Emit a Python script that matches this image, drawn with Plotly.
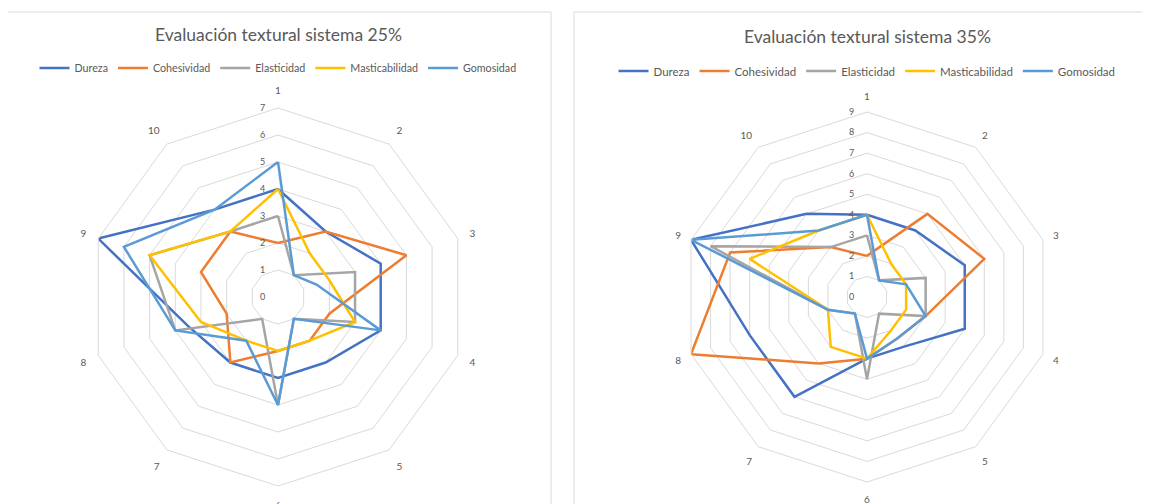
import plotly.graph_objects as go

categories = ["1", "2", "3", "4", "5", "6", "7", "8", "9", "10"]
series_names = ["Dureza", "Cohesividad", "Elasticidad", "Masticabilidad", "Gomosidad"]
colors = ["#4472C4", "#ED7D31", "#A5A5A5", "#FFC000", "#5B9BD5"]

dureza_25 = [4, 3, 4, 4, 3, 3, 3, 3.5, 7, 4]
cohesividad_25 = [2, 3, 5, 2, 2, 2, 3, 2, 3, 3]
elasticidad_25 = [3, 1, 3, 3, 1, 4, 1, 4, 5, 3]
masticabilidad_25 = [4, 2, 2, 3, 2, 2, 2, 3, 5, 3]
gomosidad_25 = [5, 1, 1.5, 4, 1, 4, 2, 4, 6, 4]

dureza_35 = [4, 4, 5, 5, 3, 3, 6, 6, 9, 5]
cohesividad_35 = [2, 5, 6, 3, 2.5, 3, 4, 9, 7, 3]
elasticidad_35 = [3, 1, 3, 3, 1, 4, 1, 2, 8, 3]
masticabilidad_35 = [4, 2, 2, 2, 2, 3, 3, 2, 6, 4]
gomosidad_35 = [4, 1, 2, 3, 2.5, 3, 1, 2, 9, 4]

titles = ["Evaluación textural sistema 25%", "Evaluación textural sistema 35%"]

W, H = 1150, 504
OFF = 8  # page body margin shifts the figure by this many pixels
FONT = "Lato"
TXT = "#595959"
GRID = "#D9D9D9"

data_25 = [dureza_25, cohesividad_25, elasticidad_25, masticabilidad_25, gomosidad_25]
data_35 = [dureza_35, cohesividad_35, elasticidad_35, masticabilidad_35, gomosidad_35]

fig = go.Figure()

def closed(v):
    return list(v) + [v[0]]

for name, col, vals in zip(series_names, colors, data_25):
    fig.add_trace(go.Scatterpolar(
        r=closed(vals), theta=closed(categories), mode="lines", name=name,
        line=dict(color=col, width=2.5), subplot="polar", legend="legend"))

for name, col, vals in zip(series_names, colors, data_35):
    fig.add_trace(go.Scatterpolar(
        r=closed(vals), theta=closed(categories), mode="lines", name=name,
        line=dict(color=col, width=2.5), subplot="polar2", legend="legend2"))

def px(x):
    return (x - OFF) / W

def py(y):
    return 1 - (y - OFF) / H

# geometry in reference pixels
c1x, c1y, R1 = 278, 297, 189
c2x, c2y, R2 = 867, 297, 185

def dom(cx, cy, R):
    return dict(x=[px(cx - R), px(cx + R)], y=[py(cy + R), py(cy - R)])

def polar_cfg(cx, cy, R, rmax, alen):
    return dict(
        domain=dom(cx, cy, R),
        gridshape="linear",
        bgcolor="white",
        angularaxis=dict(type="category", categoryarray=categories,
                         direction="clockwise", rotation=90,
                         showgrid=False, showline=True, linecolor=GRID, linewidth=1,
                         ticks="outside", ticklen=alen, tickcolor="rgba(0,0,0,0)",
                         tickfont=dict(family=FONT, size=10, color=TXT)),
        radialaxis=dict(range=[0, rmax], dtick=1, tick0=0, showline=False,
                        gridcolor=GRID, gridwidth=1, angle=90,
                        side="counterclockwise", tickangle=90,
                        ticks="outside", ticklen=9, tickcolor="rgba(0,0,0,0)",
                        tickfont=dict(family=FONT, size=9, color=TXT)),
    )

def legend_cfg(x, y, size):
    return dict(orientation="h", xanchor="center", yanchor="middle", x=x, y=y,
                font=dict(family=FONT, size=size, color=TXT),
                bgcolor="rgba(0,0,0,0)", itemwidth=30, tracegroupgap=0)

fig.update_layout(
    width=W, height=H,
    margin=dict(l=0, r=0, t=0, b=0),
    paper_bgcolor="white",
    font=dict(family=FONT, color=TXT),
    polar=polar_cfg(c1x, c1y, R1, 7, 10),
    polar2=polar_cfg(c2x, c2y, R2, 9, 8),
    legend=legend_cfg(px(c1x), py(68), 10.7),
    legend2=legend_cfg(px(c2x), py(71), 11.5),
    annotations=[
        dict(text=titles[0], x=px(c1x), y=py(34), xref="paper", yref="paper",
             showarrow=False, xanchor="center", yanchor="middle",
             font=dict(family=FONT, size=17.5, color=TXT)),
        dict(text=titles[1], x=px(c2x), y=py(36), xref="paper", yref="paper",
             showarrow=False, xanchor="center", yanchor="middle",
             font=dict(family=FONT, size=17.5, color=TXT)),
    ],
    shapes=[
        dict(type="rect", xref="paper", yref="paper", x0=px(7), x1=px(551),
             y0=-0.05, y1=py(12), line=dict(color=GRID, width=1), layer="below"),
        dict(type="rect", xref="paper", yref="paper", x0=px(574), x1=1.05,
             y0=-0.05, y1=py(12), line=dict(color=GRID, width=1), layer="below"),
    ],
)

fig.write_html("out.html")
